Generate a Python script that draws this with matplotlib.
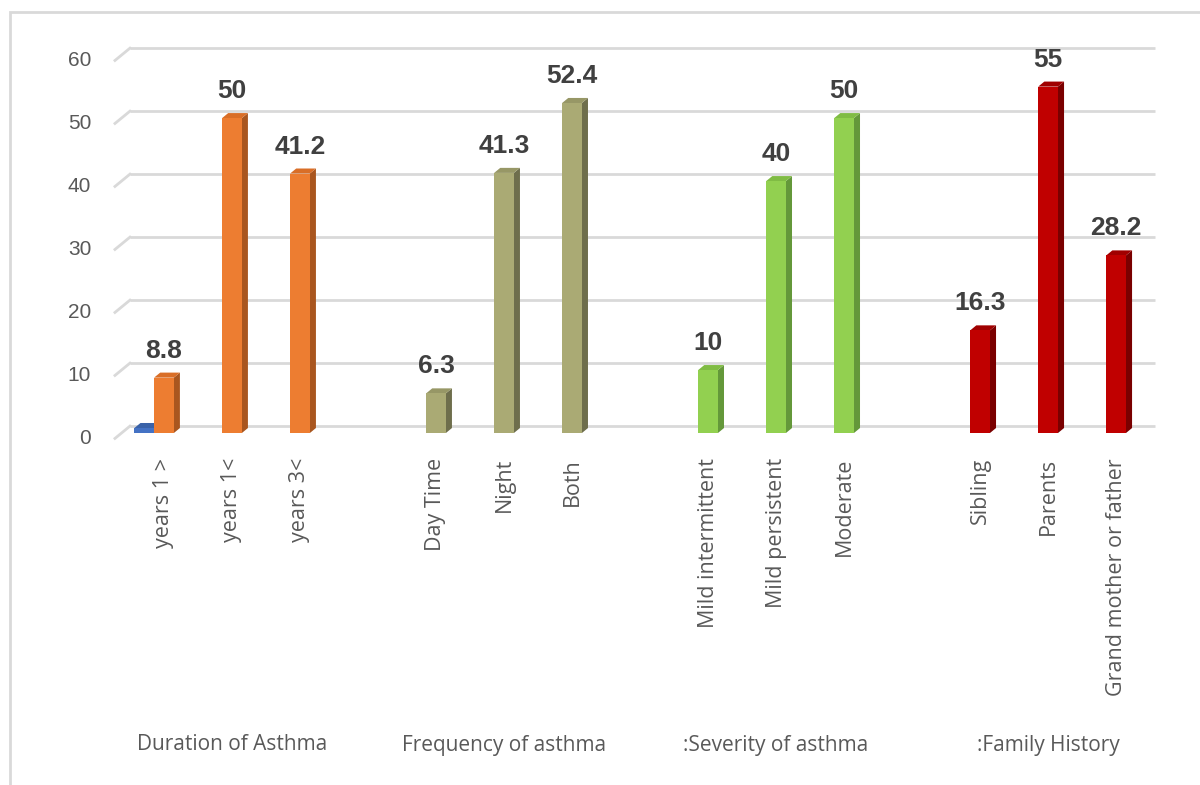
import matplotlib
matplotlib.use('Agg')
import matplotlib.pyplot as plt
from matplotlib.patches import Polygon, Rectangle

# Survey results (%), grouped by characteristic
groups = ['Duration of Asthma', 'Frequency of asthma', ':Severity of asthma', ':Family History']
categories = [
    ['years 1 >', 'years 1<', 'years 3<'],
    ['Day Time', 'Night', 'Both'],
    ['Mild intermittent', 'Mild persistent', 'Moderate'],
    ['Sibling', 'Parents', 'Grand mother or father'],
]
values = [
    [8.8, 50, 41.2],
    [6.3, 41.3, 52.4],
    [10, 40, 50],
    [16.3, 55, 28.2],
]
# small extra series sitting beside the first column
extra_value = 0.8

face_colors = ['#ED7D31', '#AAAA74', '#92D050', '#C00000']
side_colors = ['#A9561F', '#6E6E4C', '#64983A', '#7A0000']
top_colors = ['#D96E27', '#979766', '#80BC44', '#A00000']

y_ticks = [0, 10, 20, 30, 40, 50, 60]

bar_w = 0.29
depth_x = 0.09
depth_y = 0.8


def draw_column(ax, x, h, face, side, top):
    x0, x1 = x - bar_w / 2, x + bar_w / 2
    ax.add_patch(Polygon([(x1, 0), (x1 + depth_x, depth_y), (x1 + depth_x, h + depth_y), (x1, h)],
                         closed=True, facecolor=side, edgecolor='none', zorder=3))
    ax.add_patch(Polygon([(x0, h), (x1, h), (x1 + depth_x, h + depth_y), (x0 + depth_x, h + depth_y)],
                         closed=True, facecolor=top, edgecolor='none', zorder=3))
    ax.add_patch(Rectangle((x0, 0), bar_w, h, facecolor=face, edgecolor='none', zorder=4))


fig = plt.figure(figsize=(12, 7.85), dpi=100)
W, H = 1200, 785
left_px, right_px, top_px, bottom_px = 100, 1180, 40, 440
ax = fig.add_axes([left_px / W, (H - bottom_px) / H, (right_px - left_px) / W, (bottom_px - top_px) / H])

ax.set_xlim(-0.94, 14.94)
ax.set_ylim(-1.1, 62.4)
for s in ax.spines.values():
    s.set_visible(False)
ax.set_yticks([])

# back wall gridlines with the short perspective edge on the left
for v in y_ticks:
    gy = v + 1.1
    ax.plot([-0.5, 14.57], [gy, gy], color='#D9D9D9', lw=2, zorder=1, solid_capstyle='butt')
    ax.plot([-0.72, -0.5], [v - 0.85, gy], color='#D9D9D9', lw=2, zorder=1, clip_on=False)
    ax.text(-1.07, v - 0.85, str(v), ha='right', va='center', fontsize=15,
            color='#595959', family='Liberation Sans', clip_on=False)

tick_pos, tick_lab = [], []
for gi, (cats, vals) in enumerate(zip(categories, values)):
    for j, (c, v) in enumerate(zip(cats, vals)):
        x = gi * 4 + j
        draw_column(ax, x, v, face_colors[gi], side_colors[gi], top_colors[gi])
        ax.annotate(f'{v:g}', (x, v), xytext=(0, 15), textcoords='offset pixels',
                    ha='center', va='bottom', fontsize=19, fontweight='bold',
                    color='#404040', family='Liberation Sans', zorder=5)
        tick_pos.append(x)
        tick_lab.append(c)
    ax.text(gi * 4 + 1, -0.7625, groups[gi], transform=ax.get_xaxis_transform(),
            ha='center', va='center', fontsize=15, color='#595959', family='Open Sans')

draw_column(ax, -bar_w, extra_value, '#4472C4', '#2F528F', '#3A62A8')

ax.set_xticks(tick_pos)
ax.set_xticklabels(tick_lab, rotation=90, fontsize=15.5, color='#595959', family='Open Sans')
ax.tick_params(axis='x', length=0, pad=13)

# light frame around the chart area
fig.add_artist(Rectangle((10 / W, -0.05), 1.1, (H - 12) / H + 0.05, transform=fig.transFigure,
                         facecolor='none', edgecolor='#D9D9D9', lw=2))

fig.savefig('out.png', dpi=100)
